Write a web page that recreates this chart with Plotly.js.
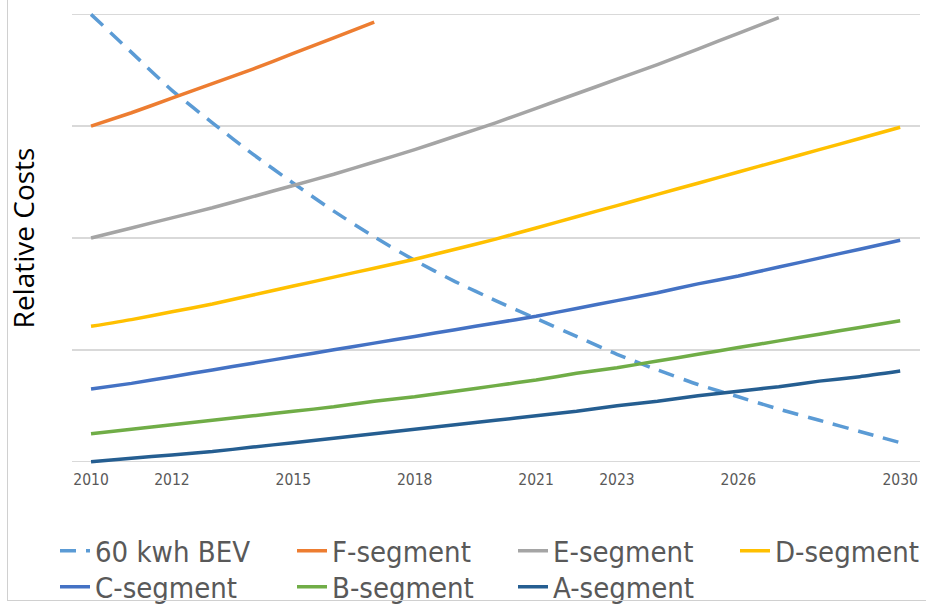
<!DOCTYPE html>
<html>
<head>
<meta charset="utf-8">
<script src="https://cdn.plot.ly/plotly-3.0.1.min.js"></script>
<style>
  html, body { margin: 0; padding: 0; background: #fff; }
  #chart { width: 926px; height: 604px; position: absolute; left: 0; top: 0; }
  #frame { position: absolute; left: 7px; top: 0; width: 919px; height: 600px;
           border-left: 1px solid #d0d0d0; border-bottom: 1px solid #d0d0d0; pointer-events: none; }
</style>
</head>
<body>
<div id="chart"></div>
<div id="frame"></div>
<script>
// ---- data ----
const years = [2010, 2011, 2012, 2013, 2014, 2015, 2016, 2017, 2018, 2019, 2020,
               2021, 2022, 2023, 2024, 2025, 2026, 2027, 2028, 2029, 2030];

const bev60   = [4.00, 3.66, 3.32, 3.03, 2.75, 2.49, 2.24, 2.01, 1.80, 1.61, 1.44,
                 1.28, 1.12, 0.96, 0.82, 0.69, 0.58, 0.47, 0.37, 0.27, 0.17];
const fYears  = [2010, 2011, 2012, 2013, 2014, 2015, 2016, 2017];
const fSeg    = [3.00, 3.12, 3.25, 3.38, 3.51, 3.65, 3.79, 3.93];
const eYears  = [2010, 2011, 2012, 2013, 2014, 2015, 2016, 2017, 2018,
                 2019, 2020, 2021, 2022, 2023, 2024, 2025, 2026, 2027];
const eSeg    = [2.00, 2.09, 2.18, 2.27, 2.37, 2.47, 2.57, 2.68, 2.79,
                 2.91, 3.03, 3.16, 3.29, 3.42, 3.55, 3.69, 3.83, 3.97];
const dSeg    = [1.21, 1.27, 1.34, 1.41, 1.49, 1.57, 1.65, 1.73, 1.81, 1.90, 1.99,
                 2.09, 2.19, 2.29, 2.39, 2.49, 2.59, 2.69, 2.79, 2.89, 2.99];
const cSeg    = [0.65, 0.70, 0.76, 0.82, 0.88, 0.94, 1.00, 1.06, 1.12, 1.18, 1.24,
                 1.30, 1.37, 1.44, 1.51, 1.59, 1.66, 1.74, 1.82, 1.90, 1.98];
const bSeg    = [0.25, 0.29, 0.33, 0.37, 0.41, 0.45, 0.49, 0.54, 0.58, 0.63, 0.68,
                 0.73, 0.79, 0.84, 0.90, 0.96, 1.02, 1.08, 1.14, 1.20, 1.26];
const aSeg    = [0.00, 0.03, 0.06, 0.09, 0.13, 0.17, 0.21, 0.25, 0.29, 0.33, 0.37,
                 0.41, 0.45, 0.50, 0.54, 0.59, 0.63, 0.67, 0.72, 0.76, 0.81];

const tickYears = [2010, 2012, 2015, 2018, 2021, 2023, 2026, 2030];
const tickLabels = ['2010', '2012', '2015', '2018', '2021', '2023', '2026', '2030'];
const seriesNames = ['60 kwh BEV', 'F-segment', 'E-segment', 'D-segment', 'C-segment', 'B-segment', 'A-segment'];
const seriesColors = ['#5B9BD5', '#ED7D31', '#A5A5A5', '#FFC000', '#4472C4', '#70AD47', '#255E91'];

// ---- traces ----
const xs = [years, fYears, eYears, years, years, years, years];
const ys = [bev60, fSeg, eSeg, dSeg, cSeg, bSeg, aSeg];
const legendIds = ['legend', 'legend2', 'legend3', 'legend4', 'legend5', 'legend6', 'legend7'];
const traces = seriesNames.map((n, i) => ({
  type: 'scatter',
  mode: 'lines',
  name: n,
  legend: legendIds[i],
  x: xs[i],
  y: ys[i],
  line: { color: seriesColors[i], width: 3.5, shape: 'spline', smoothing: 0.5,
          dash: i === 0 ? '16px,10px' : 'solid' },
  hoverinfo: 'x+y+name'
}));

// legend entry placement (pixels in the 926x604 page): column lefts, row centres
const legendCols = [55, 292, 513, 735, 55, 292, 513];
const legendRows = [551, 551, 551, 551, 587, 587, 587];
const legendFont = { family: 'DejaVu Sans Condensed, sans-serif', size: 29, color: '#595959' };

const layout = {
  width: 926,
  height: 604,
  margin: { l: 72, r: 6, t: 10.6, b: 138.6, autoexpand: false },
  paper_bgcolor: '#ffffff',
  plot_bgcolor: '#ffffff',
  showlegend: true,
  xaxis: {
    range: [2009.53, 2030.49],
    tickmode: 'array',
    tickvals: tickYears,
    ticktext: tickLabels,
    showgrid: false,
    zeroline: false,
    showline: false,
    ticks: '',
    ticklabelstandoff: 3,
    tickfont: { family: 'DejaVu Sans Condensed, sans-serif', size: 15.5, color: '#595959' }
  },
  yaxis: {
    range: [-0.03, 4.03],
    tickmode: 'linear',
    tick0: 0,
    dtick: 1,
    showticklabels: false,
    ticks: '',
    showgrid: true,
    gridcolor: '#d9d9d9',
    gridwidth: 1.5,
    zeroline: false,
    showline: false,
    title: { text: 'Relative Costs', standoff: 28,
             font: { family: 'Open Sans, sans-serif', size: 28, color: '#000000' } }
  }
};
legendIds.forEach((id, i) => {
  layout[id] = {
    orientation: 'h',
    xref: 'container',
    yref: 'container',
    x: legendCols[i] / 926,
    xanchor: 'left',
    y: 1 - legendRows[i] / 604,
    yanchor: 'middle',
    font: legendFont,
    bgcolor: 'rgba(0,0,0,0)',
    borderwidth: 0
  };
});

Plotly.newPlot('chart', traces, layout, { displayModeBar: false, staticPlot: true });
</script>
</body>
</html>
